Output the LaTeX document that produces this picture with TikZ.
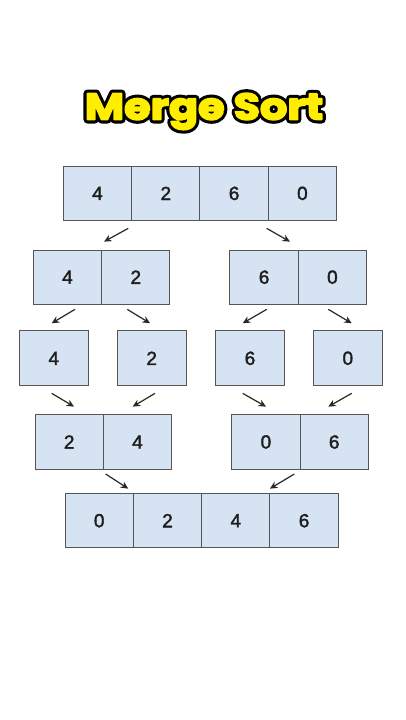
\documentclass[tikz,border=0pt]{standalone}
\usepackage{fontspec}
\setmainfont{Liberation Sans}
\newfontfamily\ttlfont{Poppins}[FakeStretch=1.16]
\usetikzlibrary{positioning,arrows.meta}
\definecolor{cellfill}{RGB}{214,227,242}
\definecolor{cellline}{RGB}{85,85,85}
\definecolor{digit}{RGB}{30,30,30}
\definecolor{arrowcol}{RGB}{40,40,40}
\definecolor{ttlyellow}{RGB}{255,238,0}
% black rim behind the title, yellow letters on top
\newcommand{\rim}[1]{\special{pdf:literal direct 1 Tr 1 j 8 w 0 0 0 RG}#1\special{pdf:literal direct 0 Tr}}
\newcommand{\thick}[1]{\special{pdf:literal direct 2 Tr 1 j 1.8 w}#1\special{pdf:literal direct 0 Tr}}

\begin{document}
\begin{tikzpicture}[x=1pt,y=1pt,
    cell/.style={draw=cellline,fill=cellfill,line width=1pt,minimum width=68.3pt,minimum height=54.3pt,
        inner sep=0pt,outer sep=0pt,text=digit,font=\fontsize{19}{21}\selectfont,
        execute at begin node=\special{pdf:literal direct 2 Tr 0.35 w},
        execute at end node=\special{pdf:literal direct 0 Tr}},
    single/.style={cell,minimum width=69pt,minimum height=54.7pt},
    title/.style={font=\ttlfont\bfseries\fontsize{37}{40}\selectfont,anchor=base},
    arr/.style={-{Stealth[length=7.5pt,width=7pt]},line width=1.2pt,color=arrowcol}]
    \useasboundingbox[fill=white] (0,0) rectangle (405,720);
    \node[title,text=black] (ttlrim) at (204,600.5) {\rim{Merge Sort}};
    \node[title,text=ttlyellow] (ttl) at (204,600.5) {\thick{Merge Sort}};
    % split
    \node[cell] (r1a) at (97.5,526.6) {4};
    \node[cell,right=0pt of r1a] (r1b) {2};
    \node[cell,right=0pt of r1b] (r1c) {6};
    \node[cell,right=0pt of r1c] (r1d) {0};
    \node[cell] (r2a) at (67.5,442.8) {4};
    \node[cell,right=0pt of r2a] (r2b) {2};
    \node[cell] (r2c) at (264.1,442.8) {6};
    \node[cell,right=0pt of r2c] (r2d) {0};
    \node[single] (s1) at (53.8,361.7) {4};
    \node[single] (s2) at (151.7,361.7) {2};
    \node[single] (s3) at (250,361.7) {6};
    \node[single] (s4) at (347.8,361.7) {0};
    % merge
    \node[cell] (r4a) at (69.2,278) {2};
    \node[cell,right=0pt of r4a] (r4b) {4};
    \node[cell] (r4c) at (265.9,278) {0};
    \node[cell,right=0pt of r4c] (r4d) {6};
    \node[cell] (r5a) at (99.2,199.3) {0};
    \node[cell,right=0pt of r5a] (r5b) {2};
    \node[cell,right=0pt of r5b] (r5c) {4};
    \node[cell,right=0pt of r5c] (r5d) {6};
    \path[arr]
    ([shift={(-3.4,-7.8)}]r1a.south east) edge ([shift={(2.4,8.4)}]r2a.north east)
    ([shift={(-1.6,-7.8)}]r1c.south east) edge ([shift={(-8.3,8.4)}]r2c.north east)
    ([shift={(7.5,-5)}]r2a.south) edge ([shift={(-2.1,7.7)}]s1.north)
    ([shift={(-8.5,-5)}]r2b.south) edge ([shift={(-1.7,7.7)}]s2.north)
    ([shift={(2.6,-5)}]r2c.south) edge ([shift={(-7.3,7.7)}]s3.north)
    ([shift={(-4.1,-5)}]r2d.south) edge ([shift={(3.9,7.7)}]s4.north)
    ([shift={(-2.1,-7.7)}]s1.south) edge ([shift={(4.8,8.2)}]r4a.north)
    ([shift={(3.3,-7.7)}]s2.south) edge ([shift={(-4.8,8.2)}]r4b.north)
    ([shift={(-7.3,-7.7)}]s3.south) edge ([shift={(0.1,8.2)}]r4c.north)
    ([shift={(3.9,-7.7)}]s4.south) edge ([shift={(-5.9,8.2)}]r4d.north)
    ([shift={(2.4,-4.9)}]r4a.south east) edge ([shift={(-5.1,4.9)}]r5a.north east)
    ([shift={(-5.8,-4.9)}]r4c.south east) edge ([shift={(0,4.9)}]r5c.north east);
\end{tikzpicture}
\end{document}
